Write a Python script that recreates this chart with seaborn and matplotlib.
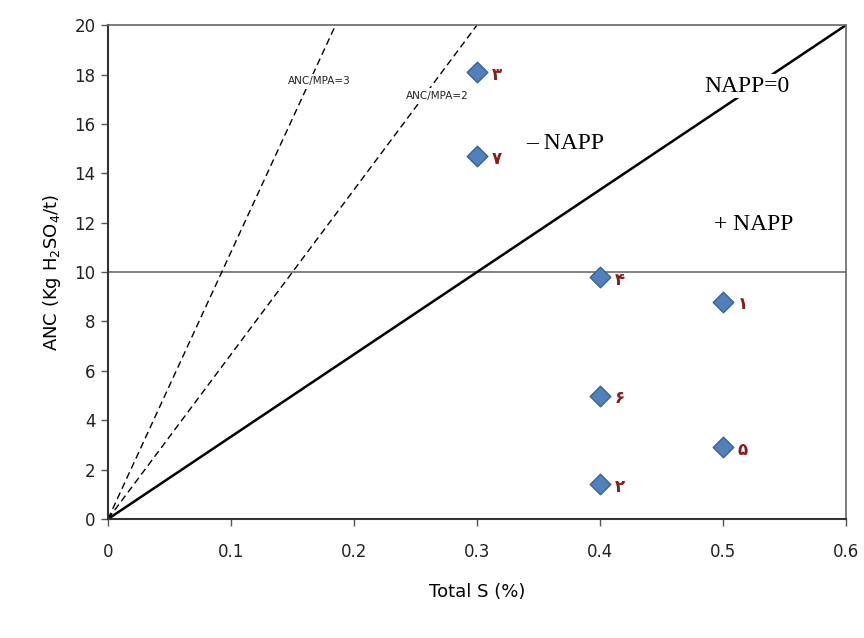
import pandas as pd
import seaborn as sns
import matplotlib.pyplot as plt

sns.set_style('white')
plt.rcParams['font.family'] = ['DejaVu Sans']
plt.rcParams['text.color'] = 'black'
plt.rcParams['axes.labelcolor'] = 'black'

# samples
total_s = [0.5, 0.4, 0.3, 0.4, 0.5, 0.4, 0.3]
anc = [8.8, 1.4, 18.1, 9.8, 2.9, 5.0, 14.7]
sample_id = ['۱', '۲', '۳', '۴', '۵', '۶', '۷']

# reference lines (end points)
napp_x = [0, 0.6]
napp_y = [0, 20]
ratio2_x = [0, 0.3]
ratio2_y = [0, 20]
ratio3_x = [0, 0.185]
ratio3_y = [0, 20]

df = pd.DataFrame({'S': total_s, 'ANC': anc, 'id': sample_id})

fig = plt.figure(figsize=(8.64, 6.38), dpi=100)
ax = fig.add_axes([0.125, 0.1865, 0.854, 0.774])

ax.axhline(10, color='#777777', lw=1.3, zorder=1)
sns.lineplot(x=napp_x, y=napp_y, ax=ax, color='black', lw=1.8, zorder=2)
sns.lineplot(x=ratio2_x, y=ratio2_y, ax=ax, color='black', lw=1.0, ls=(0, (5, 3)), zorder=2)
sns.lineplot(x=ratio3_x, y=ratio3_y, ax=ax, color='black', lw=1.0, ls=(0, (5, 3)), zorder=2)

sns.scatterplot(data=df, x='S', y='ANC', ax=ax, marker='D', s=110,
                color='#4F81BD', edgecolor='#3A6496', linewidth=1, zorder=3)

for _, r in df.iterrows():
    ax.text(r['S'] + 0.012, r['ANC'] - 0.1, r['id'], color='#8B1A1A',
            fontsize=12, fontweight='bold', va='center', ha='left')

box = dict(facecolor='white', edgecolor='none', pad=2)
ax.text(0.172, 17.6, 'ANC/MPA=3', fontsize=7.5, ha='center', color='#222222', bbox=box, zorder=4)
ax.text(0.268, 17.0, 'ANC/MPA=2', fontsize=7.5, ha='center', color='#222222', bbox=box, zorder=4)
ax.text(0.52, 17.3, 'NAPP=0', fontsize=17, family='Liberation Serif', ha='center',
        bbox=dict(facecolor='white', edgecolor='none', pad=1), zorder=4)
ax.text(0.34, 15.0, '\u2013 NAPP', fontsize=17, family='Liberation Serif', ha='left')
ax.text(0.493, 11.7, '+ NAPP', fontsize=17, family='Liberation Serif', ha='left')

ax.set_xlim(0, 0.6)
ax.set_ylim(0, 20)
ax.set_xticks([0, 0.1, 0.2, 0.3, 0.4, 0.5, 0.6])
ax.set_xticklabels(['0', '0.1', '0.2', '0.3', '0.4', '0.5', '0.6'])
ax.set_yticks(range(0, 21, 2))
ax.tick_params(axis='both', labelsize=12, direction='out', length=5, width=1,
               color='#555555', labelcolor='#222222')
ax.tick_params(axis='x', pad=12)
ax.tick_params(axis='y', pad=4)
ax.tick_params(bottom=True, left=True)
for sp in ['left', 'bottom']:
    ax.spines[sp].set_color('#333333')
    ax.spines[sp].set_linewidth(1.5)
for sp in ['top', 'right']:
    ax.spines[sp].set_color('#666666')
    ax.spines[sp].set_linewidth(1.2)

ax.set_xlabel('Total S (%)', fontsize=13, labelpad=16)
ax.set_ylabel(r'ANC (Kg H$_2$SO$_4$/t)', fontsize=13, labelpad=8)

plt.savefig('out.png', dpi=100)
